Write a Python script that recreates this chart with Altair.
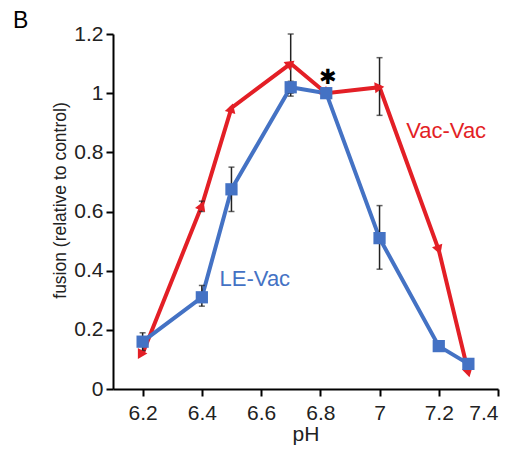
import altair as alt
import pandas as pd
import numpy as np

ph = [6.2, 6.4, 6.5, 6.7, 6.82, 7.0, 7.2, 7.3]
le_vac = [0.16, 0.31, 0.675, 1.02, 1.00, 0.51, 0.145, 0.085]
le_lo = [0.13, 0.28, 0.60, 0.99, None, 0.405, None, None]
le_hi = [0.19, 0.35, 0.75, 1.04, None, 0.62, None, None]
vac_vac = [0.12, 0.62, 0.95, 1.10, 1.00, 1.02, 0.47, 0.055]
vv_lo = [None, 0.60, None, 1.00, None, 0.925, None, None]
vv_hi = [None, 0.635, None, 1.20, None, 1.12, None, None]
x_ticks = [6.2, 6.4, 6.6, 6.8, 7.0, 7.2, 7.4]
y_ticks = [0, 0.2, 0.4, 0.6, 0.8, 1.0, 1.2]

BLUE = "#4472c4"
RED = "#e31f26"
W, H = 385, 355
XD, YD = (6.1, 7.4), (0, 1.2)

le = pd.DataFrame({"ph": ph, "v": le_vac, "lo": le_lo, "hi": le_hi})
vv = pd.DataFrame({"ph": ph, "v": vac_vac, "lo": vv_lo, "hi": vv_hi})
# arrowhead direction of each triangle, following the incoming segment
dx = np.diff(np.array(ph), prepend=ph[0] - 0.1) * W / (XD[1] - XD[0])
dy = np.diff(np.array(vac_vac), prepend=vac_vac[0]) * H / (YD[1] - YD[0])
vv["ang"] = (np.degrees(np.arctan2(dx, dy)) + 360) % 360

err = pd.concat([le, vv]).dropna(subset=["lo"])

x = alt.X("ph:Q", scale=alt.Scale(domain=list(XD), nice=False, zero=False),
          axis=alt.Axis(values=x_ticks, title="pH", labelExpr="toString(datum.value)",
                        titlePadding=0, labelPadding=6))
y = alt.Y("v:Q", scale=alt.Scale(domain=list(YD), nice=False),
          axis=alt.Axis(values=y_ticks, title="fusion (relative to control)",
                        labelExpr="toString(datum.value)", titlePadding=4,
                        labelPadding=3, titleFontSize=17.5, titleY=166))

blue_line = alt.Chart(le).mark_line(color=BLUE, strokeWidth=4).encode(x=x, y=y)
red_line = alt.Chart(vv).mark_line(color=RED, strokeWidth=4).encode(x=x, y=y)
err_rule = alt.Chart(err).mark_rule(color="#222", strokeWidth=1.5).encode(
    x="ph:Q", y="lo:Q", y2="hi:Q")
err_cap_lo = alt.Chart(err).mark_tick(color="#222", orient="horizontal", size=6,
                                      thickness=1.5).encode(x="ph:Q", y="lo:Q")
err_cap_hi = alt.Chart(err).mark_tick(color="#222", orient="horizontal", size=6,
                                      thickness=1.5).encode(x="ph:Q", y="hi:Q")
squares = alt.Chart(le).mark_point(shape="square", filled=True, color=BLUE,
                                   size=150, opacity=1).encode(x=x, y=y)
tris = alt.Chart(vv).mark_point(shape="triangle-up", filled=True, color=RED,
                                size=120, opacity=1).encode(
    x=x, y=y, angle=alt.Angle("ang:Q", scale=None))

labels = pd.DataFrame({"ph": [6.579, 7.225, 6.825], "v": [0.372, 0.872, 1.05],
                       "t": ["LE-Vac", "Vac-Vac", "✱"], "c": [BLUE, RED, "#000"],
                       "s": [22, 22, 21]})
texts = alt.Chart(labels).mark_text(font="Liberation Sans", baseline="middle",
                                    align="center").encode(
    x="ph:Q", y="v:Q", text="t:N", color=alt.Color("c:N", scale=None),
    size=alt.Size("s:Q", scale=None))

panel = alt.Chart(pd.DataFrame({"t": ["B"]})).mark_text(
    font="Liberation Sans", fontSize=23, align="left", baseline="alphabetic",
    color="#000").encode(text="t:N", x=alt.value(-100), y=alt.value(-6))

chart = alt.layer(red_line, blue_line, err_rule, err_cap_lo, err_cap_hi,
                  tris, squares, texts, panel).properties(
    width=W, height=H,
    autosize=alt.AutoSizeParams(type="none"),
    padding={"left": 113, "top": 34, "right": 25, "bottom": 64},
).configure_view(stroke=None).configure_axis(
    grid=False, domainColor="#000", domainWidth=2, tickColor="#000", tickWidth=2,
    tickSize=7, labelFont="Liberation Sans", labelFontSize=21, labelColor="#222",
    titleFont="Liberation Sans", titleFontWeight="normal", titleFontSize=21,
    titleColor="#222",
)

chart.save("out.html", embed_options={"renderer": "svg", "actions": False})
